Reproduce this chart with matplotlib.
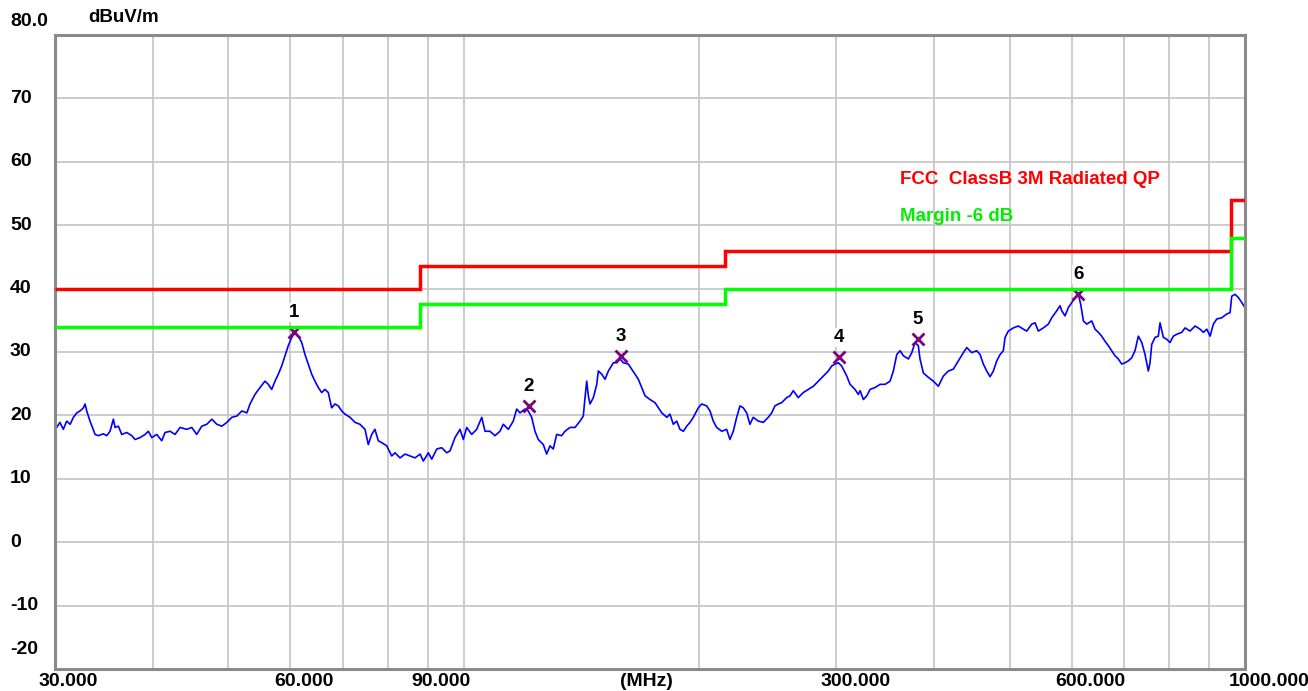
import matplotlib
matplotlib.use("Agg")
import matplotlib.pyplot as plt
import matplotlib.transforms as mtransforms
import numpy as np

freq_mhz = [
    30.15, 30.44, 30.74, 31.05, 31.37, 31.67, 31.99, 32.30, 32.62, 32.78, 32.94, 33.26, 33.76, 34.09,
    34.60, 34.94, 35.28, 35.63, 35.81, 36.16, 36.52, 37.07, 37.62, 37.98, 38.54, 39.12, 39.50, 39.90,
    40.49, 41.09, 41.49, 42.11, 42.73, 43.37, 44.24, 44.89, 45.55, 46.23, 46.92, 47.62, 48.33, 49.05,
    49.78, 50.52, 51.27, 52.03, 52.81,
    53.29, 54.08, 54.89, 55.70, 56.25, 56.81, 57.37, 57.93, 58.51, 59.08, 59.66, 60.26, 60.85, 61.45,
    62.06, 62.67, 63.28, 63.92, 64.54, 65.17, 65.83, 66.47, 67.12, 67.79, 68.45, 69.13, 69.82, 70.51,
    71.56, 72.62, 73.69, 74.79, 75.52, 76.28, 77.01, 77.78, 78.57, 79.73, 80.91, 81.71, 82.92, 84.15,
    85.40, 86.67, 87.96, 88.82, 90.14, 91.05, 92.40, 93.77, 95.15,
    96.08, 97.50, 98.95, 99.92, 100.92, 102.42, 103.94, 105.49, 106.52, 108.09, 109.69, 111.32, 112.41,
    114.08, 115.77, 116.94, 118.08, 119.83, 121.00, 122.22, 123.41, 124.62, 126.47, 127.74, 128.99,
    130.25, 131.56, 133.52, 134.82, 136.83, 138.86, 140.93, 142.30, 143.02, 143.74, 144.42, 145.15,
    146.57, 148.05, 148.75, 150.25, 151.71, 153.20, 155.48, 157.05, 158.56, 160.11, 162.49, 164.13,
    165.73, 167.35, 169.03, 170.69, 173.22, 175.80,
    179.3, 182.0, 183.7, 185.5, 187.4, 189.2, 191.1, 193.0, 194.9, 196.8, 199.7, 201.7, 204.7, 206.7,
    208.7, 210.8, 214.0, 217.1, 219.2, 221.4, 223.6, 225.8, 228.0, 230.3, 232.5, 234.8, 238.3, 241.9,
    245.4, 247.9, 250.3, 252.8, 255.3, 259.1, 261.7, 264.2, 268.1, 272.1, 276.2, 280.3, 284.4, 288.6,
    292.9, 295.9, 298.8, 301.7, 304.7, 309.3, 312.3, 316.9, 320.0,
    321.7, 324.8, 328.1, 331.3, 336.2, 341.2, 346.3, 351.4, 354.8, 358.4, 361.9, 365.5, 370.9, 374.6,
    378.2, 381.9, 383.8, 387.6, 393.4, 399.2, 405.1, 411.1, 417.2, 423.4, 429.7, 436.1, 440.5, 447.0,
    453.6, 458.1, 462.5, 467.2, 471.8, 476.4, 481.2, 485.9, 490.6, 493.1, 497.9, 505.3, 512.8, 520.4,
    525.6, 533.4, 538.7, 543.9, 552.0, 560.2, 565.8, 574.2, 579.8,
    582.8, 588.4, 594.2, 600.2, 606.0, 611.9, 616.3, 621.1, 627.3, 636.6, 642.8, 649.1, 655.6, 662.0,
    668.5, 675.2, 681.8, 688.5, 695.4, 702.2, 709.1, 716.2, 723.2, 730.3, 737.7, 744.9, 752.1, 755.9,
    759.7, 767.1, 774.6, 778.5, 786.2, 794.1, 801.8, 809.7, 817.8, 830.0, 838.1, 850.5, 863.2, 876.0,
    884.6, 893.5, 902.2, 911.0, 920.2, 933.9, 947.7, 956.9, 961.7, 971.1, 980.6, 990.5, 1000.0,
]
level_dbuv = [
    18.1, 18.9, 17.8, 19.1, 18.6, 19.7, 20.4, 20.7, 21.2, 21.8, 20.7, 19.1, 17.0, 16.8,
    17.1, 16.8, 17.5, 19.4, 18.1, 18.3, 17.0, 17.3, 16.8, 16.2, 16.5, 17.0, 17.5, 16.5,
    17.0, 16.0, 17.3, 17.5, 17.0, 18.1, 17.8, 18.1, 17.0, 18.3, 18.6, 19.4, 18.6, 18.3,
    18.9, 19.7, 19.9, 20.7, 20.4,
    21.8, 23.3, 24.4, 25.4, 24.9, 24.1, 25.4, 26.5, 27.8, 29.4, 31.0, 32.3, 33.1, 32.5,
    31.5, 29.6, 28.1, 26.5, 25.4, 24.4, 23.6, 24.1, 23.6, 21.2, 21.8, 21.5, 20.7, 20.2,
    19.7, 18.9, 18.6, 17.8, 15.4, 17.0, 17.8, 16.0, 15.7, 15.2, 13.6, 14.1, 13.3, 13.9,
    13.6, 13.3, 13.9, 12.8, 14.1, 13.1, 14.7, 14.9, 14.1,
    14.4, 16.5, 17.8, 16.2, 18.1, 17.0, 17.8, 19.7, 17.5, 17.5, 16.8, 17.5, 18.6,
    17.8, 19.1, 21.0, 20.4, 21.0, 20.7, 19.7, 17.5, 16.2, 15.4, 13.9, 15.2,
    14.7, 17.0, 16.8, 17.5, 18.1, 18.1, 19.1, 19.9, 22.8, 25.4, 23.1, 21.8,
    22.8, 24.9, 27.0, 26.5, 25.7, 27.0, 28.3, 28.3, 28.9, 28.3, 28.1, 27.3,
    26.5, 25.7, 24.4, 23.1, 22.5, 22.0,
    20.4, 19.7, 20.2, 18.6, 19.1, 17.8, 17.5, 18.3, 18.9, 19.7, 21.2, 21.8, 21.5, 20.7,
    19.1, 18.1, 17.5, 17.8, 16.2, 17.5, 19.7, 21.5, 21.2, 20.4, 18.6, 19.7, 19.1, 18.9,
    19.7, 20.4, 21.5, 21.8, 22.0, 22.8, 23.1, 23.9, 22.8, 23.6, 24.1, 24.6, 25.4, 26.2,
    27.0, 27.8, 28.1, 28.3, 27.8, 26.2, 24.9, 24.1, 23.3,
    23.9, 22.5, 23.1, 24.1, 24.4, 24.9, 24.9, 25.4, 27.0, 29.6, 30.2, 29.4, 28.9, 29.9,
    31.5, 31.0, 28.9, 26.7, 26.0, 25.4, 24.6, 26.2, 27.0, 27.3, 28.6, 29.9, 30.7, 29.9,
    30.2, 29.6, 28.1, 27.0, 26.1, 27.0, 28.6, 29.6, 30.2, 32.3, 33.3, 33.8, 34.1, 33.6,
    33.3, 34.4, 34.6, 33.3, 33.8, 34.4, 35.4, 36.5, 37.3,
    36.5, 35.7, 37.0, 37.8, 38.6, 39.1, 37.5, 34.9, 34.4, 34.9, 33.6, 33.1, 32.5, 31.7,
    31.0, 30.2, 29.4, 28.9, 28.1, 28.3, 28.6, 29.1, 30.2, 32.5, 31.5, 29.6, 27.0, 28.3,
    31.2, 32.3, 32.5, 34.6, 32.3, 32.0, 31.5, 32.5, 32.8, 33.1, 33.8, 33.3, 34.1, 33.6,
    33.1, 33.6, 32.5, 34.4, 35.2, 35.4, 36.0, 36.2, 38.8, 39.1, 38.6, 37.8, 37.0,
]

# peak markers
marker_ids = ["1", "2", "3", "4", "5", "6"]
marker_freq = [60.7, 121.2, 158.9, 302.5, 381.2, 611.5]
marker_level = [33.1, 21.5, 29.4, 29.2, 32.0, 39.1]

# FCC Class B 3 m QP limit and -6 dB margin (stair steps)
limit_edges = [30, 88, 216, 960, 1000]
limit_qp = [40, 43.5, 46, 54]
margin_levels = [34, 37.5, 40, 48]

y_grid = [-10, 0, 10, 20, 30, 40, 50, 60, 70]
y_labels = ["-10", "0", "10", "20", "30", "40", "50", "60", "70"]
x_grid = [40, 50, 60, 70, 80, 90, 100, 200, 300, 400, 500, 600, 700, 800, 900]
x_label_pos = [30, 60, 90, 300, 600, 1000]
x_labels = ["30.000", "60.000", "90.000", "300.000", "600.000", "1000.000"]

plt.rcParams['font.family'] = ['Liberation Sans', 'DejaVu Sans']
plt.rcParams['font.weight'] = 'bold'

W, H = 1308, 691
fig = plt.figure(figsize=(W / 100, H / 100), dpi=100)
fig.patch.set_facecolor('white')
ax = fig.add_axes([55 / W, (H - 669) / H, 1190 / W, 634 / H])

ax.set_xscale('log')
ax.set_xlim(30, 1000)
ax.set_ylim(-20, 80)

ax.set_xticks(x_grid)
ax.set_xticks([], minor=True)
ax.set_yticks(y_grid)
ax.tick_params(which='both', length=0, labelbottom=False, labelleft=False)
ax.grid(True, color='#c8c8c8', lw=1.3, zorder=0)
ax.set_axisbelow(True)
for s in ax.spines.values():
    s.set_color('#8a8a8a')
    s.set_linewidth(2.2)

# trace
ax.plot(freq_mhz, level_dbuv, color='#0000ff', lw=1.2, zorder=2)

# markers
ax.plot(marker_freq, marker_level, ls='none', marker='x', ms=9, mew=2,
        color='#800080', zorder=2.5)
for mid, mf, ml in zip(marker_ids, marker_freq, marker_level):
    ax.annotate(mid, (mf, ml), xytext=(0, 11), textcoords='offset pixels',
                ha='center', va='bottom', fontsize=13.5, fontweight='bold', color='black',
                bbox=dict(boxstyle='square,pad=0.05', fc='white', ec='none'), zorder=4)

# limit lines
ax.stairs(limit_qp, limit_edges, baseline=None, color='#ff0000', lw=2.5, zorder=3)
ax.stairs(margin_levels, limit_edges, baseline=None, color='#00ff00', lw=2.5, zorder=3)

legend_tr = mtransforms.blended_transform_factory(ax.transAxes, ax.transData)
ax.text((900 - 55) / 1190, 80 - (179 - 35) / 6.34, "FCC  ClassB 3M Radiated QP",
        transform=legend_tr, color='#ff0000', fontsize=13.5, fontweight='bold',
        va='center', ha='left')
ax.text((900 - 55) / 1190, 80 - (217 - 35) / 6.34, "Margin -6 dB",
        transform=legend_tr, color='#00ee00', fontsize=13.5, fontweight='bold',
        va='center', ha='left')

# y tick labels, left aligned at the figure edge
ytr = mtransforms.blended_transform_factory(fig.transFigure, ax.transData)
for v, lab in zip(y_grid, y_labels):
    ax.text(10 / W, v, lab, transform=ytr, ha='left', va='center', fontsize=14,
            fontweight='bold', clip_on=False)
ax.text(10 / W, 80, "80.0", transform=mtransforms.offset_copy(ytr, fig=fig, y=14, units='dots'),
        ha='left', va='center', fontsize=14, fontweight='bold')
ax.text(10 / W, -20, "-20", transform=mtransforms.offset_copy(ytr, fig=fig, y=20, units='dots'),
        ha='left', va='center', fontsize=14, fontweight='bold')
ax.text(88 / W, 80, "dBuV/m", transform=mtransforms.offset_copy(ytr, fig=fig, y=17, units='dots'),
        ha='left', va='center', fontsize=13.5, fontweight='bold')

# x tick labels
xtr = mtransforms.blended_transform_factory(ax.transData, ax.transAxes)
xtr_off = mtransforms.offset_copy(xtr, fig=fig, x=-16, y=-4, units='dots')
for f, lab in zip(x_label_pos, x_labels):
    ax.text(f, 0, lab, transform=xtr_off, ha='left', va='top', fontsize=14, fontweight='bold')
ax.text(0.497, 0, "(MHz)", transform=mtransforms.offset_copy(ax.transAxes, fig=fig, y=-4, units='dots'),
        ha='center', va='top', fontsize=14, fontweight='bold')

fig.savefig('out.png', dpi=100)
